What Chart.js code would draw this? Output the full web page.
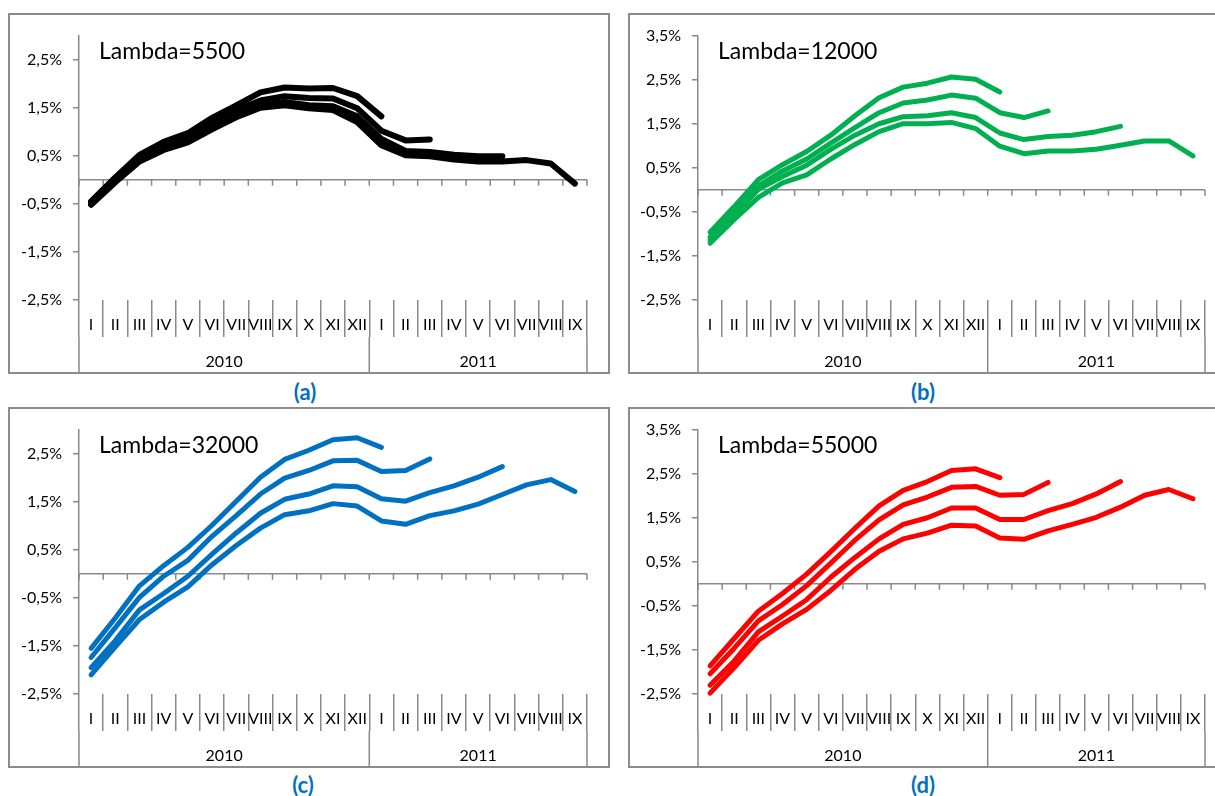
<!DOCTYPE html>
<html>
<head>
<meta charset="utf-8">
<script src="https://cdn.jsdelivr.net/npm/chart.js@4.4.0/dist/chart.umd.min.js"></script>
<style>
  body { margin: 0; background: #fff; overflow: hidden; width: 1215px; height: 796px; position: relative; font-family: Lato, sans-serif; }
  .panel { position: absolute; box-sizing: border-box; border: 2px solid #8c8c8c; background: #fff; overflow: hidden; }
  .panel canvas { display: block; }
  .cap { position: absolute; width: 100px; text-align: center; color: #0070c0; font: bold 22px Lato, sans-serif; line-height: 26px; }
</style>
</head>
<body>
<div class="panel" style="left:8px;top:13px;width:602px;height:361px"><canvas id="ca" width="598" height="357"></canvas></div>
<div class="panel" style="left:628px;top:13px;width:590px;height:361px"><canvas id="cb" width="586" height="357"></canvas></div>
<div class="panel" style="left:8px;top:407px;width:602px;height:361px"><canvas id="cc" width="598" height="357"></canvas></div>
<div class="panel" style="left:628px;top:407px;width:590px;height:361px"><canvas id="cd" width="586" height="357"></canvas></div>
<div class="cap" style="left:255px;top:379px">(a)</div>
<div class="cap" style="left:873px;top:379px">(b)</div>
<div class="cap" style="left:253px;top:772px">(c)</div>
<div class="cap" style="left:873px;top:772px">(d)</div>
<script>
const months = ['I','II','III','IV','V','VI','VII','VIII','IX','X','XI','XII','I','II','III','IV','V','VI','VII','VIII','IX'];
const years = ['2010', '2011'];
const yearMonths = [12, 9];
const lambdas = ['Lambda=5500', 'Lambda=12000', 'Lambda=32000', 'Lambda=55000'];
const yTicksLow = [-2.5, -1.5, -0.5, 0.5, 1.5, 2.5];
const yTicksHigh = [-2.5, -1.5, -0.5, 0.5, 1.5, 2.5, 3.5];

// (a) lambda 5500, estimates ending I, III, VI, IX 2011
const a1 = [-0.45, 0.05, 0.52, 0.79, 0.97, 1.29, 1.55, 1.82, 1.92, 1.90, 1.91, 1.74, 1.32];
const a2 = [-0.47, 0.00, 0.48, 0.72, 0.90, 1.18, 1.45, 1.65, 1.74, 1.70, 1.69, 1.49, 1.02, 0.82, 0.84];
const a3 = [-0.50, -0.02, 0.43, 0.68, 0.85, 1.12, 1.38, 1.55, 1.62, 1.55, 1.53, 1.32, 0.85, 0.60, 0.58, 0.52, 0.49, 0.49];
const a4 = [-0.52, -0.05, 0.38, 0.62, 0.78, 1.05, 1.30, 1.50, 1.55, 1.49, 1.45, 1.20, 0.72, 0.51, 0.49, 0.42, 0.38, 0.38, 0.41, 0.34, -0.08];

// (b) lambda 12000
const b1 = [-0.96, -0.38, 0.23, 0.57, 0.87, 1.24, 1.68, 2.09, 2.33, 2.42, 2.56, 2.51, 2.22];
const b2 = [-1.07, -0.49, 0.09, 0.43, 0.70, 1.06, 1.41, 1.75, 1.97, 2.04, 2.15, 2.08, 1.75, 1.64, 1.79];
const b3 = [-1.14, -0.56, 0.01, 0.30, 0.56, 0.92, 1.24, 1.50, 1.66, 1.68, 1.75, 1.64, 1.29, 1.14, 1.21, 1.24, 1.32, 1.44];
const b4 = [-1.21, -0.67, -0.17, 0.16, 0.34, 0.70, 1.03, 1.32, 1.50, 1.50, 1.53, 1.39, 0.99, 0.82, 0.88, 0.88, 0.92, 1.01, 1.11, 1.11, 0.77];

// (c) lambda 32000
const c1 = [-1.55, -0.92, -0.25, 0.17, 0.55, 1.01, 1.51, 2.01, 2.38, 2.57, 2.79, 2.83, 2.63];
const c2 = [-1.74, -1.12, -0.49, -0.05, 0.28, 0.78, 1.21, 1.66, 1.99, 2.15, 2.35, 2.36, 2.13, 2.15, 2.39];
const c3 = [-1.95, -1.39, -0.75, -0.41, -0.05, 0.41, 0.85, 1.26, 1.55, 1.66, 1.83, 1.81, 1.56, 1.51, 1.69, 1.83, 2.01, 2.23];
const c4 = [-2.10, -1.52, -0.95, -0.59, -0.27, 0.19, 0.59, 0.95, 1.23, 1.31, 1.46, 1.41, 1.10, 1.03, 1.21, 1.31, 1.45, 1.65, 1.85, 1.96, 1.71];

// (d) lambda 55000
const d1 = [-1.86, -1.24, -0.62, -0.22, 0.22, 0.73, 1.26, 1.77, 2.12, 2.32, 2.57, 2.61, 2.41];
const d2 = [-2.04, -1.46, -0.84, -0.47, -0.04, 0.47, 0.99, 1.45, 1.79, 1.97, 2.19, 2.21, 2.01, 2.03, 2.30];
const d3 = [-2.30, -1.75, -1.09, -0.73, -0.36, 0.15, 0.60, 1.02, 1.35, 1.50, 1.72, 1.72, 1.46, 1.46, 1.66, 1.82, 2.04, 2.32];
const d4 = [-2.48, -1.90, -1.28, -0.91, -0.58, -0.15, 0.33, 0.74, 1.02, 1.15, 1.33, 1.31, 1.04, 1.01, 1.20, 1.35, 1.51, 1.74, 2.01, 2.14, 1.93];

const AXIS = '#898989';
Chart.defaults.font.family = 'Lato, sans-serif';
Chart.defaults.font.size = 16;
Chart.defaults.color = '#000';

// excel style: axis line at 0, year row under the months, lambda text
const excelAxis = {
  id: 'excelAxis',
  beforeDatasetsDraw(chart) {
    const {ctx, chartArea: ca, scales: {x, y}} = chart;
    const y0 = y.getPixelForValue(0);
    ctx.save();
    ctx.strokeStyle = AXIS;
    ctx.lineWidth = 1.5;
    ctx.beginPath();
    ctx.moveTo(ca.left, y0);
    ctx.lineTo(ca.right, y0);
    for (let k = 0; k <= months.length; k++) {
      const px = x.getPixelForValue(k - 0.5);
      ctx.moveTo(px, y0);
      ctx.lineTo(px, y0 + 6);
    }
    ctx.stroke();
    ctx.restore();
  },
  afterDraw(chart, args, opts) {
    const {ctx, chartArea: ca, scales: {x}} = chart;
    const edges = [0];
    yearMonths.forEach(n => edges.push(edges[edges.length - 1] + n));
    ctx.save();
    ctx.strokeStyle = AXIS;
    ctx.lineWidth = 1.5;
    ctx.beginPath();
    edges.forEach(k => {
      const px = x.getPixelForValue(k - 0.5);
      ctx.moveTo(px, ca.bottom + 37);
      ctx.lineTo(px, chart.height);
    });
    ctx.stroke();
    ctx.fillStyle = '#000';
    ctx.font = '16px Lato, sans-serif';
    ctx.textAlign = 'center';
    ctx.textBaseline = 'middle';
    years.forEach((yr, i) => {
      const px = (x.getPixelForValue(edges[i] - 0.5) + x.getPixelForValue(edges[i + 1] - 0.5)) / 2;
      ctx.fillText(yr, px, ca.bottom + 62);
    });
    ctx.font = '23px Lato, sans-serif';
    ctx.textAlign = 'left';
    ctx.textBaseline = 'alphabetic';
    ctx.fillText(opts.title, ca.left + 20, 44);
    ctx.restore();
  }
};

function makePanel(id, series, color, title, yMax, yTicks, yw, padR, lw) {
  return new Chart(document.getElementById(id), {
    type: 'line',
    data: {
      labels: months,
      datasets: series.map(s => ({
        data: s,
        borderColor: color,
        borderWidth: lw,
        pointRadius: 0,
        tension: 0,
        borderCapStyle: 'round',
        borderJoinStyle: 'round',
        clip: false
      }))
    },
    options: {
      responsive: false,
      animation: false,
      devicePixelRatio: 1,
      layout: { padding: { top: 10, right: padR, left: 0, bottom: 0 } },
      plugins: {
        legend: { display: false },
        tooltip: { enabled: false },
        excelAxis: { title: title }
      },
      scales: {
        x: {
          offset: true,
          grid: { offset: true, drawOnChartArea: false, tickLength: 37, color: AXIS, lineWidth: 1.5 },
          border: { display: false },
          ticks: { autoSkip: false, minRotation: 0, maxRotation: 0, padding: -22 },
          afterFit: s => { s.height = 72; }
        },
        y: {
          min: -2.5,
          max: yMax,
          grid: { drawOnChartArea: false, tickLength: 6, color: AXIS, lineWidth: 1.5 },
          border: { display: true, color: AXIS, width: 1.5 },
          ticks: {
            padding: 11,
            callback: v => v.toFixed(1).replace('.', ',') + '%'
          },
          afterBuildTicks: s => { s.ticks = yTicks.map(v => ({ value: v })); },
          afterFit: s => { s.width = yw; }
        }
      }
    },
    plugins: [excelAxis]
  });
}

makePanel('ca', [a1, a2, a3, a4], '#000000', lambdas[0], 3.0, yTicksLow, 69, 21, 6);
makePanel('cb', [b1, b2, b3, b4], '#00b050', lambdas[1], 3.5, yTicksHigh, 68, 11, 5);
makePanel('cc', [c1, c2, c3, c4], '#0070c0', lambdas[2], 3.0, yTicksLow, 69, 21, 5);
makePanel('cd', [d1, d2, d3, d4], '#ff0000', lambdas[3], 3.5, yTicksHigh, 68, 11, 5);
</script>
</body>
</html>
